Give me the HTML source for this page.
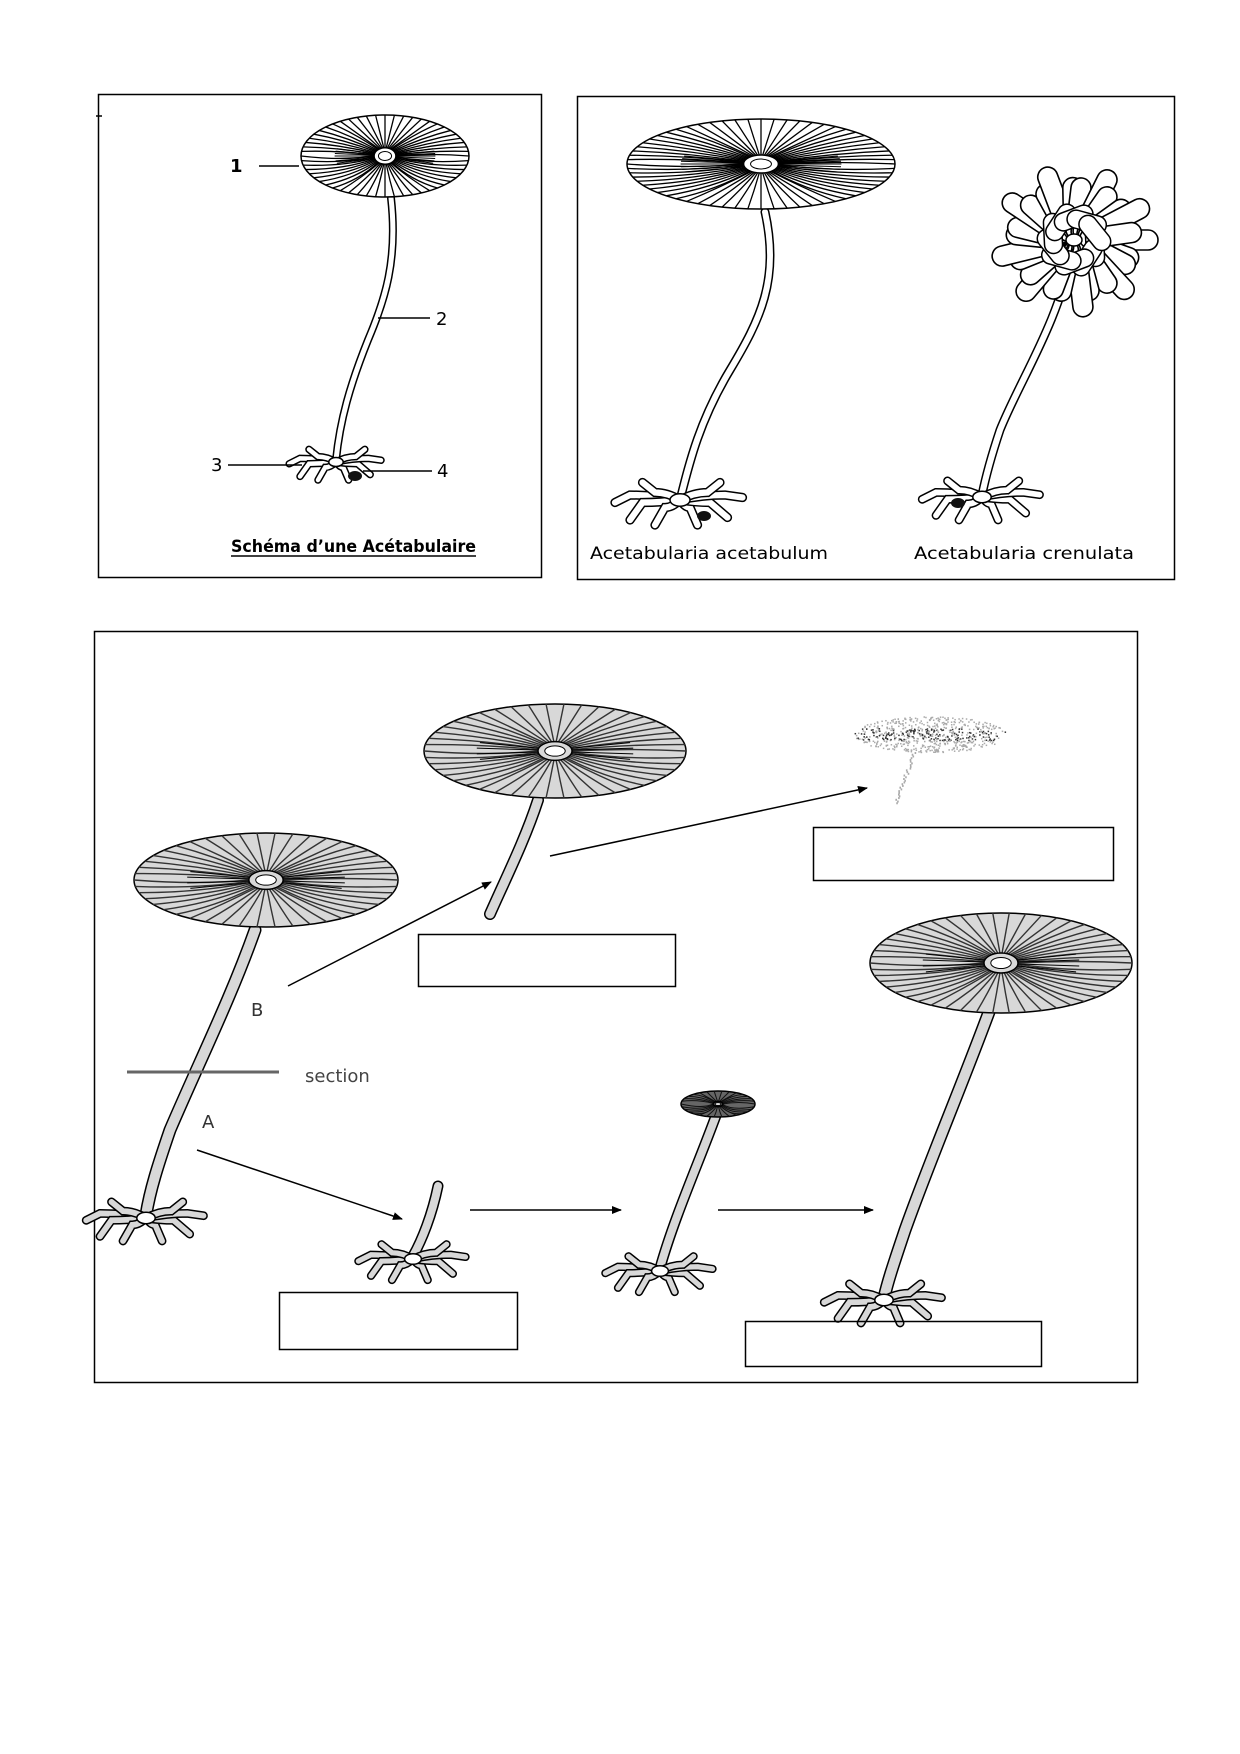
<!DOCTYPE html>
<html><head><meta charset="utf-8"><style>
html,body{margin:0;padding:0;background:#fff;}
svg{display:block;}
text{font-family:"DejaVu Sans","Liberation Sans",sans-serif;}
</style></head><body>
<svg id="s" width="1240" height="1754" viewBox="0 0 1240 1754" xmlns="http://www.w3.org/2000/svg">
<rect x="0" y="0" width="1240" height="1754" fill="#fff"/>
<rect x="98.5" y="94.5" width="443" height="483" fill="none" stroke="#000" stroke-width="1.5"/>
<rect x="577.5" y="96.5" width="597" height="483" fill="none" stroke="#000" stroke-width="1.5"/>
<rect x="94.5" y="631.5" width="1043" height="751" fill="none" stroke="#000" stroke-width="1.5"/>
<line x1="96" y1="116" x2="102" y2="116" stroke="#000" stroke-width="1.5"/>
<g id="g"></g>
<text x="230" y="172" font-size="18" font-weight="bold">1</text>
<line x1="259" y1="166" x2="299" y2="166" stroke="#000" stroke-width="1.5"/>
<text x="436" y="325" font-size="18">2</text>
<line x1="378" y1="318" x2="430" y2="318" stroke="#000" stroke-width="1.5"/>
<text x="211" y="471" font-size="18">3</text>
<line x1="228" y1="465" x2="302" y2="465" stroke="#000" stroke-width="1.5"/>
<text x="437" y="477" font-size="18">4</text>
<line x1="363" y1="471" x2="432" y2="471" stroke="#000" stroke-width="1.5"/>
<text x="231" y="552" font-size="17" font-weight="bold" textLength="245" lengthAdjust="spacingAndGlyphs">Schéma d’une Acétabulaire</text>
<line x1="231" y1="556" x2="476" y2="556" stroke="#000" stroke-width="1.5"/>
<text x="590" y="559" font-size="17" textLength="238" lengthAdjust="spacingAndGlyphs">Acetabularia acetabulum</text>
<text x="914" y="559" font-size="17" textLength="220" lengthAdjust="spacingAndGlyphs">Acetabularia crenulata</text>
<line x1="127" y1="1072" x2="279" y2="1072" stroke="#666" stroke-width="3"/>
<text x="305" y="1082" font-size="18" fill="#444">section</text>
<text x="251" y="1016" font-size="18" fill="#333">B</text>
<text x="202" y="1128" font-size="18" fill="#333">A</text>
<rect x="418.5" y="934.5" width="257" height="52" fill="none" stroke="#000" stroke-width="1.5"/>
<rect x="813.5" y="827.5" width="300" height="53" fill="none" stroke="#000" stroke-width="1.5"/>
<rect x="279.5" y="1292.5" width="238" height="57" fill="none" stroke="#000" stroke-width="1.5"/>
<rect x="745.5" y="1321.5" width="296" height="45" fill="none" stroke="#000" stroke-width="1.5"/>
<defs><marker id="ah" markerWidth="10" markerHeight="8" refX="9" refY="4" orient="auto" markerUnits="userSpaceOnUse"><path d="M0,0 L10,4 L0,8 z" fill="#000"/></marker></defs>
<line x1="288" y1="986" x2="491" y2="882" stroke="#000" stroke-width="1.5" marker-end="url(#ah)"/>
<line x1="550" y1="856" x2="867" y2="788" stroke="#000" stroke-width="1.5" marker-end="url(#ah)"/>
<line x1="197" y1="1150" x2="402" y2="1219" stroke="#000" stroke-width="1.5" marker-end="url(#ah)"/>
<line x1="470" y1="1210" x2="621" y2="1210" stroke="#000" stroke-width="1.5" marker-end="url(#ah)"/>
<line x1="718" y1="1210" x2="873" y2="1210" stroke="#000" stroke-width="1.5" marker-end="url(#ah)"/>
</svg>
<script>
var NS="http://www.w3.org/2000/svg",G=document.getElementById("g");
function el(t,a){var e=document.createElementNS(NS,t);for(var k in a)e.setAttribute(k,a[k]);G.appendChild(e);return e;}
function stalk(d,w,fill){el("path",{d:d,fill:"none",stroke:"#000","stroke-width":w+3,"stroke-linecap":"round"});el("path",{d:d,fill:"none",stroke:fill,"stroke-width":w,"stroke-linecap":"round"});}
function rhiz(x,y,s,fill,nuc){
 var ds=[[-40,-4,-52,2],[-30,2,-40,16],[-12,6,-20,20],[8,6,14,20],[24,2,38,14],[36,-4,50,-2],[-20,-6,-30,-14],[22,-6,32,-14]];
 ds.forEach(function(d){var p="M"+x+","+y+" Q"+(x+d[0]*s*0.5)+","+(y+d[1]*s)+" "+(x+d[0]*s)+","+(y+d[1]*s)+" L"+(x+d[2]*s)+","+(y+d[3]*s);stalk(p,5*s,fill);});
 el("ellipse",{cx:x,cy:y,rx:8*s,ry:5*s,fill:"#fff",stroke:"#000","stroke-width":1.5});
 if(nuc)el("ellipse",{cx:nuc[0],cy:nuc[1],rx:7,ry:5,fill:"#111"});
}
function cap(cx,cy,rx,ry,fill,n,dark,conv,sw){
 el("ellipse",{cx:cx,cy:cy,rx:rx,ry:ry,fill:fill,stroke:"#000","stroke-width":1.5});
 var hx=rx*0.13,hy=ry*0.2;
 for(var i=0;i<n;i++){var a=2*Math.PI*i/n;var c=Math.cos(a),s=Math.sin(a);
  var x1=cx+hx*c,y1=cy+hy*s,x2=cx+rx*c,y2=cy+ry*s;
  var mx=(x1+x2)/2+(s>0?-6*c:0),my=(y1+y2)/2+(Math.abs(c)>0.6?(s>0?5:-3):0);
  el("path",{d:"M"+x1+","+y1+" Q"+mx+","+my+" "+x2+","+y2,fill:"none",stroke:dark,"stroke-width":sw});}
 for(var j=0;j<conv;j++){var h=conv/2;var b=(j<h?-0.3:Math.PI-0.3)+0.6*(j%h)/(h-1);
  el("line",{x1:cx+hx*Math.cos(b),y1:cy+hy*Math.sin(b),x2:cx+rx*0.6*Math.cos(b),y2:cy+ry*0.6*Math.sin(b),stroke:"#000","stroke-width":1});}
 el("ellipse",{cx:cx,cy:cy,rx:hx,ry:hy,fill:fill,stroke:"#000","stroke-width":1.5});
 el("ellipse",{cx:cx,cy:cy,rx:hx*0.6,ry:hy*0.55,fill:"#fff",stroke:"#000","stroke-width":1});
}
stalk("M391,198 C398,260 385,300 368,340 C350,385 340,420 336,460",5,"#fff");
rhiz(336,462,0.9,"#fff",[355,476]);
cap(385,156,84,41,"#fff",56,"#000",14,1.3);
stalk("M765,212 C780,280 760,320 730,370 C700,420 690,460 680,500",6,"#fff");
rhiz(680,500,1.25,"#fff",[704,516]);
cap(761,164,134,45,"#fff",64,"#000",14,1.3);
stalk("M1072,250 C1060,320 1020,380 1000,430 C990,460 985,480 982,495",6,"#fff");
rhiz(982,497,1.15,"#fff",[958,503]);
(function(){var cx=1074,cy=240;
 for(var i=0;i<26;i++){var a=2*Math.PI*i/26+(i%2)*0.1;var L=(i%3==0?78:62);var r=L/2+6;
  var x=cx+r*Math.cos(a),y=cy+r*Math.sin(a)*0.85;
  el("rect",{x:x-L/2,y:y-10,width:L,height:20,rx:10,fill:"#fff",stroke:"#000","stroke-width":1.6,transform:"rotate("+(a*180/Math.PI)+" "+x+" "+y+")"});}
 for(var k=0;k<10;k++){var a2=2*Math.PI*k/10+0.3;var x=cx+22*Math.cos(a2),y=cy+22*Math.sin(a2);
  el("rect",{x:x-20,y:y-9,width:40,height:18,rx:9,fill:"#fff",stroke:"#000","stroke-width":1.5,transform:"rotate("+(a2*180/Math.PI+70)+" "+x+" "+y+")"});}
 el("ellipse",{cx:cx,cy:cy,rx:8,ry:6,fill:"#fff",stroke:"#000","stroke-width":1.5});
})();
var F="#d8d8d8",D="#333";
stalk("M255,930 C230,1000 200,1060 170,1130 C158,1165 150,1190 146,1215",10,F);
rhiz(146,1218,1.15,F,null);
cap(266,880,132,47,F,46,D,8,1.4);
stalk("M538,800 C525,840 505,880 490,914",9,F);
cap(555,751,131,47,F,46,D,8,1.4);
stalk("M989,1012 C960,1090 930,1160 905,1230 C895,1260 888,1280 884,1298",10,F);
rhiz(884,1300,1.15,F,null);
cap(1001,963,131,50,F,50,D,8,1.4);
stalk("M438,1186 C432,1215 422,1240 413,1256",8,F);
rhiz(413,1259,1.05,F,null);
stalk("M718,1110 C700,1160 675,1215 660,1268",8,F);
rhiz(660,1271,1.05,F,null);
cap(718,1104,37,13,"#666",30,"#111",0,1);
(function(){var s=7;function r(){s=(s*9301+49297)%233280;return s/233280;}
 for(var i=0;i<650;i++){var a=r()*2*Math.PI,d=Math.sqrt(r());var x=930+76*d*Math.cos(a),y=734+18*d*Math.sin(a);
  var dark=(Math.abs(y-734)<6&&r()<0.5)?"#333":"#aaa";
  el("rect",{x:x,y:y,width:1.5,height:1.5,fill:dark});}
 for(var j=0;j<30;j++){var t=j/30;el("rect",{x:912-t*20+r()*4,y:752+t*52,width:1.6,height:2,fill:"#aaa"});}
})();
</script>
</body></html>
